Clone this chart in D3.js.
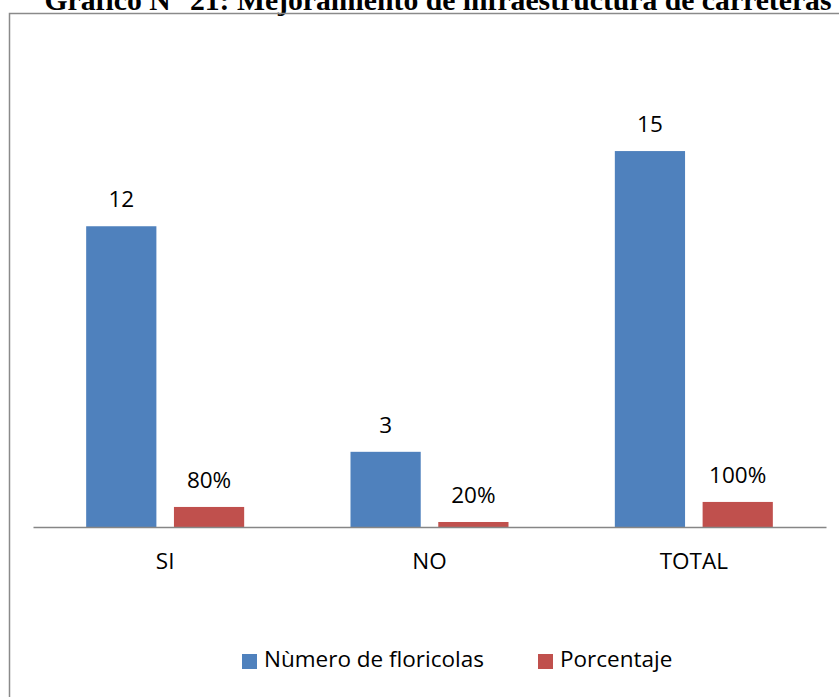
<!DOCTYPE html>
<html>
<head>
<style>
body {margin:0; background:#fff;}
svg {display:block;}
</style>
<script src="https://d3js.org/d3.v7.min.js"></script>
</head>
<body>
<div id="chart"></div>
<script>
// data
var categories = ["SI", "NO", "TOTAL"]
var floricolas = [12, 3, 15]
var porcentaje = [0.8, 0.2, 1.0]
var porcentajeLabels = ["80%", "20%", "100%"]
var seriesNames = ["Nùmero de floricolas", "Porcentaje"]
var colors = ["#4F81BD", "#C0504D"]

var width = 839, height = 697
var font = "'Open Sans', 'Noto Sans', sans-serif"
var fontSize = "22.5px"

var svg = d3.select("#chart").append("svg")
    .attr("width", width)
    .attr("height", height)

// title, cut off at the top in the original
svg.append("text")
    .attr("x", 438).attr("y", 10)
    .attr("text-anchor", "middle")
    .style("font-family", "'Liberation Serif', 'Times New Roman', serif")
    .style("font-weight", "bold")
    .style("font-size", "29.7px")
    .text("Gráfico N° 21: Mejoramiento de infraestructura de carreteras")

// chart frame
svg.append("rect")
    .attr("x", 9.5).attr("y", 13.5)
    .attr("width", 860).attr("height", 720)
    .attr("fill", "none")
    .attr("stroke", "#8a8a8a")
    .attr("stroke-width", 1.5)

var x = d3.scaleBand()
    .domain(categories)
    .range([33, 826])

var x1 = d3.scaleBand()
    .domain(seriesNames)
    .range([x.bandwidth() / 2 - 79, x.bandwidth() / 2 + 79])
    .paddingInner(0.2)

var y = d3.scaleLinear()
    .domain([0, 16])
    .range([527, 126])

var rows = categories.map(function(c, i) {
  return {cat: c, vals: [
    {s: seriesNames[0], v: floricolas[i], label: String(floricolas[i])},
    {s: seriesNames[1], v: porcentaje[i], label: porcentajeLabels[i]}
  ]}
})

var groups = svg.selectAll("g.grp")
  .data(rows)
  .enter()
  .append("g")
    .attr("class", "grp")
    .attr("transform", function(d) { return "translate(" + x(d.cat) + ",0)" })

groups.selectAll("rect")
  .data(function(d) { return d.vals })
  .enter()
  .append("rect")
    .attr("x", function(d) { return x1(d.s) })
    .attr("y", function(d) { return y(d.v) })
    .attr("width", x1.bandwidth())
    .attr("height", function(d) { return y(0) - y(d.v) })
    .attr("fill", function(d, i) { return colors[i] })

groups.selectAll("text")
  .data(function(d) { return d.vals })
  .enter()
  .append("text")
    .attr("x", function(d) { return x1(d.s) + x1.bandwidth() / 2 })
    .attr("y", function(d) { return y(d.v) - 19 })
    .attr("text-anchor", "middle")
    .style("font-family", font)
    .style("font-size", fontSize)
    .text(function(d) { return d.label })

// x axis
var xAxis = svg.append("g")
    .attr("transform", "translate(0," + y(0) + ")")
    .call(d3.axisBottom(x).tickSize(0).tickPadding(26))
xAxis.select(".domain").attr("stroke", "#868686").attr("stroke-width", 1.5)
xAxis.selectAll("text")
    .style("font-family", font)
    .style("font-size", fontSize)
    .attr("fill", "#000")

// legend
var legendX = [242, 538]
var legend = svg.selectAll("g.leg")
  .data(seriesNames)
  .enter()
  .append("g")
    .attr("transform", function(d, i) { return "translate(" + legendX[i] + ",654)" })
legend.append("rect")
    .attr("width", 15).attr("height", 15)
    .attr("fill", function(d, i) { return colors[i] })
legend.append("text")
    .attr("x", 22).attr("y", 13)
    .style("font-family", font)
    .style("font-size", fontSize)
    .text(function(d) { return d })
</script>
</body>
</html>
